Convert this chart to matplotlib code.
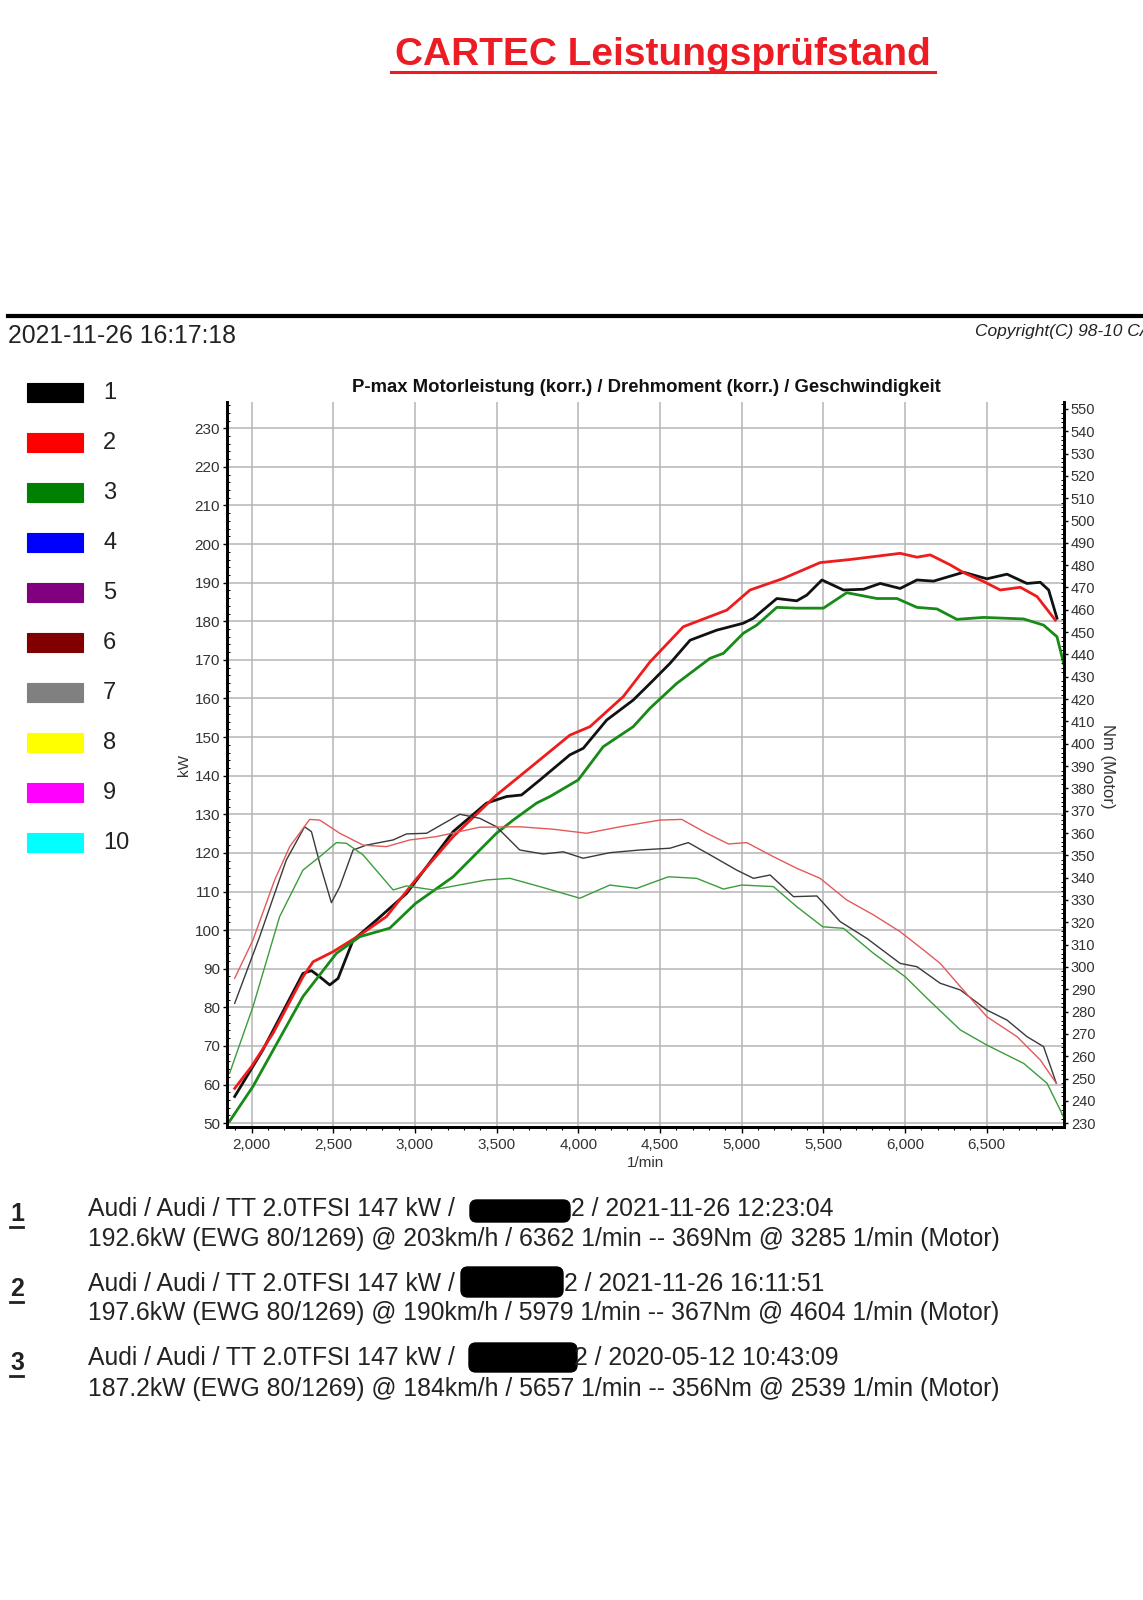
import matplotlib
matplotlib.use("Agg")
import matplotlib.pyplot as plt
from matplotlib.patches import Rectangle, FancyBboxPatch
from matplotlib.lines import Line2D
from matplotlib.ticker import MultipleLocator

plt.rcParams["font.family"] = ["Liberation Sans", "DejaVu Sans"]

W, H = 1143, 1600

# --- Leistung (kW) je Lauf ---
rpm_p1 = [1896, 2069, 2314, 2366, 2417, 2478, 2529, 2621, 2764, 2948, 3233, 3438, 3560, 3652,
          3765, 3948, 4030, 4173, 4336, 4439, 4561, 4684, 4847, 5010, 5072, 5215, 5337, 5399,
          5491, 5623, 5746, 5848, 5970, 6073, 6174, 6358, 6501, 6624, 6746, 6828, 6879, 6930]
kw_p1 = [56.9, 69.0, 88.8, 89.5, 87.9, 85.8, 87.5, 97.4, 102.6, 109.5, 125.5, 132.9, 134.6, 135.0,
         138.9, 145.4, 147.1, 154.4, 159.6, 163.9, 169.1, 175.1, 177.7, 179.5, 180.8, 185.9, 185.3, 186.8,
         190.7, 188.1, 188.3, 189.8, 188.5, 190.7, 190.4, 192.7, 191.0, 192.2, 189.8, 190.1, 188.1, 180.8]

rpm_p2 = [1896, 1998, 2131, 2314, 2376, 2498, 2662, 2825, 3003, 3233, 3499, 3662, 3948, 4071,
          4275, 4439, 4643, 4909, 5051, 5255, 5480, 5664, 5970, 6073, 6154, 6277, 6358, 6481,
          6583, 6706, 6808, 6920]
kw_p2 = [59.0, 64.6, 73.3, 87.9, 91.8, 94.4, 98.7, 103.5, 113.0, 124.2, 135.0, 140.6, 150.5, 152.7,
         160.5, 169.5, 178.6, 182.9, 188.1, 191.1, 195.2, 196.0, 197.6, 196.6, 197.2, 194.6, 192.6, 190.3,
         188.1, 188.8, 186.4, 180.3]

rpm_p3 = [1865, 2008, 2314, 2519, 2662, 2845, 3003, 3233, 3499, 3601, 3744, 3826, 3999, 4152,
          4336, 4439, 4602, 4806, 4888, 5010, 5092, 5215, 5337, 5500, 5643, 5827, 5950, 6073,
          6195, 6317, 6481, 6726, 6848, 6930, 6981]
kw_p3 = [50.5, 59.5, 82.8, 94.0, 98.3, 100.5, 106.9, 113.8, 125.1, 128.5, 132.9, 134.6, 138.9, 147.5,
         152.7, 157.5, 163.9, 170.4, 171.7, 176.9, 179.0, 183.6, 183.4, 183.4, 187.4, 185.9, 185.9, 183.6,
         183.2, 180.5, 181.0, 180.6, 179.0, 176.0, 167.4]

# --- Drehmoment (Nm) je Lauf ---
rpm_t1 = [1896, 2049, 2212, 2324, 2366, 2417, 2488, 2539, 2621, 2703, 2866, 2948, 3071, 3274,
          3396, 3499, 3641, 3785, 3908, 4029, 4193, 4377, 4561, 4673, 4826, 4969, 5072, 5174,
          5317, 5460, 5603, 5766, 5970, 6073, 6215, 6338, 6501, 6624, 6746, 6848, 6926]
nm_t1 = [283.7, 313.6, 347.9, 362.8, 360.6, 346.4, 328.8, 335.9, 352.4, 354.6, 356.9, 359.6, 359.9, 368.4,
         366.6, 362.8, 352.4, 350.6, 351.6, 348.7, 351.2, 352.4, 353.2, 355.7, 349.4, 343.4, 339.7, 341.2,
         331.5, 331.8, 320.3, 312.8, 301.6, 300.1, 292.7, 289.7, 280.7, 276.2, 268.8, 264.3, 247.9]

rpm_t2 = [1896, 2008, 2141, 2233, 2355, 2417, 2539, 2682, 2825, 2968, 3131, 3396, 3641, 3846,
          4050, 4255, 4500, 4633, 4786, 4919, 5031, 5194, 5337, 5480, 5643, 5807, 5970, 6113,
          6215, 6338, 6501, 6685, 6828, 6926]
nm_t2 = [294.9, 312.1, 339.0, 353.9, 366.1, 365.8, 359.9, 354.6, 353.9, 356.9, 358.4, 362.6, 362.8, 361.7,
         359.9, 362.8, 365.8, 366.1, 359.9, 355.1, 355.7, 349.4, 344.2, 339.7, 330.0, 323.3, 315.8, 307.6,
         301.6, 291.2, 277.7, 268.8, 258.3, 247.9]

rpm_t3 = [1865, 2008, 2171, 2314, 2417, 2519, 2580, 2682, 2866, 2948, 3111, 3438, 3581, 3764,
          4009, 4193, 4357, 4551, 4724, 4888, 5000, 5194, 5337, 5496, 5623, 5807, 6001, 6134,
          6338, 6501, 6726, 6869, 6975]
nm_t3 = [252.4, 282.2, 322.5, 343.4, 349.4, 355.7, 355.4, 350.2, 334.5, 336.3, 334.5, 339.0, 339.7, 336.0,
         330.8, 336.7, 335.2, 340.4, 339.7, 334.9, 336.7, 336.0, 327.0, 318.0, 317.3, 306.1, 295.6, 286.0,
         271.8, 265.0, 256.8, 247.9, 232.2]

rpm_ticks = [2000, 2500, 3000, 3500, 4000, 4500, 5000, 5500, 6000, 6500]
rpm_tick_labels = ["2,000", "2,500", "3,000", "3,500", "4,000", "4,500", "5,000", "5,500", "6,000", "6,500"]
kw_ticks = list(range(50, 231, 10))
nm_ticks = list(range(230, 551, 10))

legend_labels = ["1", "2", "3", "4", "5", "6", "7", "8", "9", "10"]
legend_colors = ["#000000", "#ff0000", "#008000", "#0000ff", "#800080",
                 "#800000", "#808080", "#ffff00", "#ff00ff", "#00ffff"]

run_ids = ["1", "2", "3"]
run_vehicle = ["Audi / Audi / TT 2.0TFSI 147 kW / "] * 3
run_stamp = ["2 / 2021-11-26 12:23:04", "2 / 2021-11-26 16:11:51", "2 / 2020-05-12 10:43:09"]
run_result = [
    "192.6kW (EWG 80/1269) @ 203km/h / 6362 1/min -- 369Nm @ 3285 1/min (Motor)",
    "197.6kW (EWG 80/1269) @ 190km/h / 5979 1/min -- 367Nm @ 4604 1/min (Motor)",
    "187.2kW (EWG 80/1269) @ 184km/h / 5657 1/min -- 356Nm @ 2539 1/min (Motor)",
]

power_colors = ["#111111", "#ee1c1c", "#178a17"]
torque_colors = ["#3a3a3a", "#e35a5a", "#3c9c3c"]


def fx(x):
    return x / W


def fy(y):
    return 1 - y / H


fig = plt.figure(figsize=(W / 100, H / 100), dpi=100)

# Kopf
fig.text(fx(663), fy(65), "CARTEC Leistungsprüfstand", color="#ec1c24", fontsize=28,
         fontweight="bold", ha="center", va="baseline")
fig.add_artist(Line2D([fx(391), fx(935)], [fy(72), fy(72)], color="#ec1c24", lw=2.2))
fig.add_artist(Line2D([fx(8), 1.0], [fy(316), fy(316)], color="black", lw=3))
fig.text(fx(8), fy(343), "2021-11-26 16:17:18", fontsize=17.8, color="#222222", va="baseline")
fig.text(fx(975), fy(336), "Copyright(C) 98-10 CARTEC", fontsize=12.5, style="italic",
         color="#222222", va="baseline")

# Legende links
for i, (lab, col) in enumerate(zip(legend_labels, legend_colors)):
    yc = 392.7 + 50 * i
    fig.add_artist(Rectangle((fx(27), fy(yc + 9.5)), 56 / W, 19 / H, facecolor=col,
                             edgecolor=col, lw=0.8, transform=fig.transFigure))
    fig.text(fx(103), fy(yc), lab, fontsize=17, color="#222222", va="center")

# Diagramm
ax = fig.add_axes([fx(227), fy(1127), (1064 - 227) / W, (1127 - 402) / H])
ax2 = ax.twinx()

for rpm, kw, col in [(rpm_p1, kw_p1, power_colors[0]), (rpm_p2, kw_p2, power_colors[1]),
                     (rpm_p3, kw_p3, power_colors[2])]:
    ax.plot(rpm, kw, color=col, lw=2.0, solid_joinstyle="round")

for rpm, nm, col in [(rpm_t1, nm_t1, torque_colors[0]), (rpm_t2, nm_t2, torque_colors[1]),
                     (rpm_t3, nm_t3, torque_colors[2])]:
    ax2.plot(rpm, nm, color=col, lw=1.0)

ax.set_xlim(1849, 6973)
ax.set_ylim(49.0, 236.8)
ax2.set_ylim(228.3, 553.1)

ax.set_xticks(rpm_ticks)
ax.set_xticklabels(rpm_tick_labels)
ax.xaxis.set_minor_locator(MultipleLocator(100))
ax.set_yticks(kw_ticks)
ax.yaxis.set_minor_locator(MultipleLocator(2))
ax2.set_yticks(nm_ticks)
ax2.yaxis.set_minor_locator(MultipleLocator(2))

ax.grid(True, which="major", color="#b5b5b5", lw=1.1)
ax.set_axisbelow(True)

ax.tick_params(axis="x", which="major", length=4, width=1, pad=4, labelsize=11, labelcolor="#333333")
ax.tick_params(axis="x", which="minor", length=2.5, width=0.8)
ax.tick_params(axis="y", which="major", length=3, width=1, pad=2, labelsize=11, labelcolor="#333333")
ax.tick_params(axis="y", which="minor", length=2, width=0.7, direction="in")
ax2.tick_params(axis="y", which="major", length=3, width=1, pad=2, labelsize=10.5, labelcolor="#333333")
ax2.tick_params(axis="y", which="minor", length=2, width=0.7, direction="in")

for a in (ax, ax2):
    a.spines["top"].set_visible(False)
    for s in ("left", "right", "bottom"):
        a.spines[s].set_linewidth(2)
        a.spines[s].set_color("black")

fig.text(fx(646), fy(392), "P-max Motorleistung (korr.) / Drehmoment (korr.) / Geschwindigkeit",
         fontsize=13.3, fontweight="bold", ha="center", va="baseline", color="#111111")
fig.text(fx(184), fy(765), "kW", fontsize=11, rotation=90, ha="center", va="center", color="#333333")
fig.text(fx(1107), fy(766), "Nm (Motor)", fontsize=12, rotation=270, ha="center", va="center",
         color="#333333")
fig.text(fx(646), fy(1163), "1/min", fontsize=11, ha="center", va="center", color="#333333")

# Laufinfos unten
line_a_y = [1209, 1284, 1358]
line_b_y = [1239, 1313, 1389]
num_y = [1214, 1289, 1363]
stamp_x = [571, 564, 574]
blob_box = [(470, 1200, 100, 22), (461, 1267, 102, 30), (469, 1343, 108, 29)]

for i in range(3):
    fig.text(fx(10), fy(num_y[i]), run_ids[i], fontsize=18, fontweight="bold", color="#222222",
             va="center")
    fig.add_artist(Line2D([fx(10), fx(23)], [fy(num_y[i] + 13)] * 2, color="#222222", lw=2))
    fig.text(fx(88), fy(line_a_y[i]), run_vehicle[i], fontsize=17.8, color="#222222", va="center")
    fig.text(fx(stamp_x[i]), fy(line_a_y[i]), run_stamp[i], fontsize=17.8, color="#222222", va="center")
    fig.text(fx(88), fy(line_b_y[i]), run_result[i], fontsize=17.8, color="#222222", va="center")
    bx, by, bw, bh = blob_box[i]
    fig.add_artist(FancyBboxPatch((fx(bx), fy(by + bh)), bw / W, bh / H,
                                  boxstyle="round,pad=0,rounding_size=0.006",
                                  mutation_aspect=W / H, facecolor="black", edgecolor="black",
                                  transform=fig.transFigure))

fig.savefig("out.png", dpi=100)
